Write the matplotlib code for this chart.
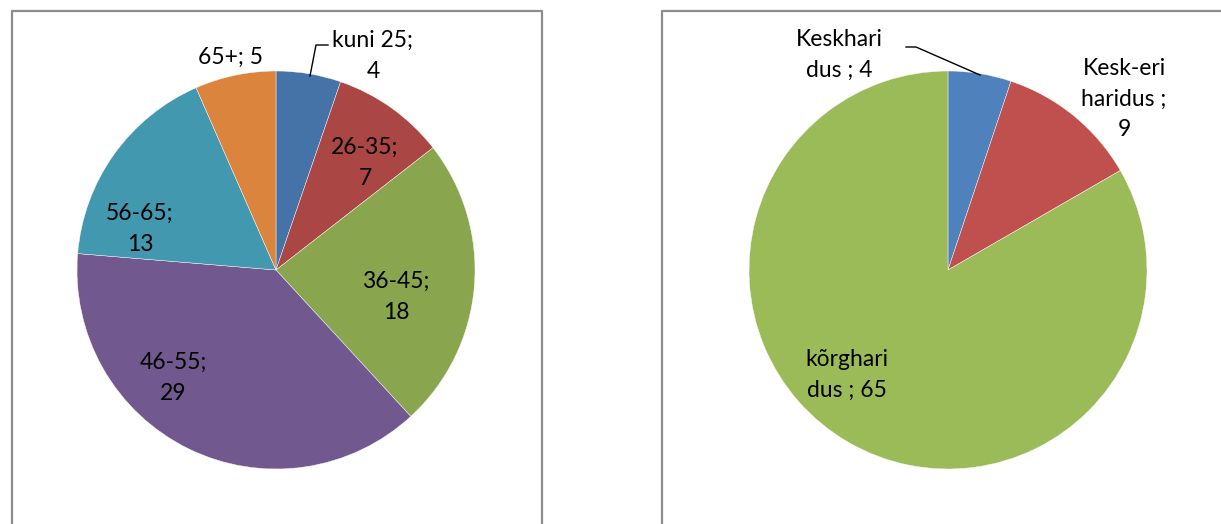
import matplotlib
matplotlib.use("Agg")
import matplotlib.pyplot as plt
from matplotlib.lines import Line2D

# ---- data ----
age_labels = ["kuni 25", "26-35", "36-45", "46-55", "56-65", "65+"]
age_values = [4, 7, 18, 29, 13, 5]
age_colors = ["#4572A7", "#AA4643", "#89A54E", "#71588F", "#4198AF", "#DB843D"]

edu_labels = ["Keskhari\ndus", "Kesk-eri\nharidus", "kõrghari\ndus"]
edu_values = [4, 9, 65]
edu_colors = ["#4F81BD", "#C0504D", "#9BBB59"]

# label texts (category; value) with line breaks as in the reference
age_texts = ["kuni 25;\n4", "26-35;\n7", "36-45;\n18", "46-55;\n29", "56-65;\n13", "65+; 5"]
edu_texts = ["Keskhari\ndus ; 4", "Kesk-eri\nharidus ;\n9", "kõrghari\ndus ; 65"]

# ---- layout (pixels) ----
W, H = 1221, 524
DPI = 100
fig = plt.figure(figsize=(W / DPI, H / DPI), dpi=DPI)
fig.patch.set_facecolor("white")

plt.rcParams["font.family"] = ["Lato", "DejaVu Sans"]
FS = 16.5
LS = 1.55
SPAN = 1.45

def make_axes(cx, cy, r, span=SPAN):
    size = 2 * r * span
    ax = fig.add_axes([(cx - size / 2) / W, 1 - (cy + size / 2) / H, size / W, size / H])
    return ax

def finish_axes(ax, span=SPAN):
    ax.set_xlim(-span, span)
    ax.set_ylim(-span, span)
    ax.set_aspect("equal")
    ax.axis("off")

def to_data(px, py, cx, cy, r):
    return (px - cx) / r, -(py - cy) / r

# panel borders
for x0, x1 in [(12, 542), (662, 1240)]:
    xs = [x0 / W, x0 / W, x1 / W, x1 / W]
    ys = [-0.1, 1 - 11 / H, 1 - 11 / H, -0.1]
    fig.add_artist(Line2D(xs, ys, color="#8c8c8c", lw=1.6, transform=fig.transFigure))

# ---- left pie ----
cxL, cyL, rL = 276, 270, 199
axL = make_axes(cxL, cyL, rL)
axL.pie(age_values, colors=age_colors, startangle=90, counterclock=False,
        radius=1.0, wedgeprops=dict(edgecolor="white", linewidth=0.3))
finish_axes(axL)
age_pos = [(373, 56), (365, 163), (396, 297), (173, 378), (140, 229), (231, 57)]
for t, (px, py) in zip(age_texts, age_pos):
    x, y = to_data(px, py, cxL, cyL, rL)
    axL.text(x, y, t, ha="center", va="center", fontsize=FS, linespacing=LS, color="black")
lx, ly = zip(*[to_data(p, q, cxL, cyL, rL) for p, q in [(310, 76), (316, 45), (328, 45)]])
axL.plot(lx, ly, color="black", lw=1)

# ---- right pie ----
cxR, cyR, rR = 948, 270, 199
axR = make_axes(cxR, cyR, rR)
axR.pie(edu_values, colors=edu_colors, startangle=90, counterclock=False,
        radius=1.0, wedgeprops=dict(edgecolor="white", linewidth=0.3))
finish_axes(axR)
edu_pos = [(839, 55), (1124, 99), (847, 375)]
for t, (px, py) in zip(edu_texts, edu_pos):
    x, y = to_data(px, py, cxR, cyR, rR)
    axR.text(x, y, t, ha="center", va="center", fontsize=FS, linespacing=LS, color="black")
lx, ly = zip(*[to_data(p, q, cxR, cyR, rR) for p, q in [(906, 47), (916, 47), (980, 75)]])
axR.plot(lx, ly, color="black", lw=1)

fig.savefig("out.png", dpi=DPI, facecolor="white")
